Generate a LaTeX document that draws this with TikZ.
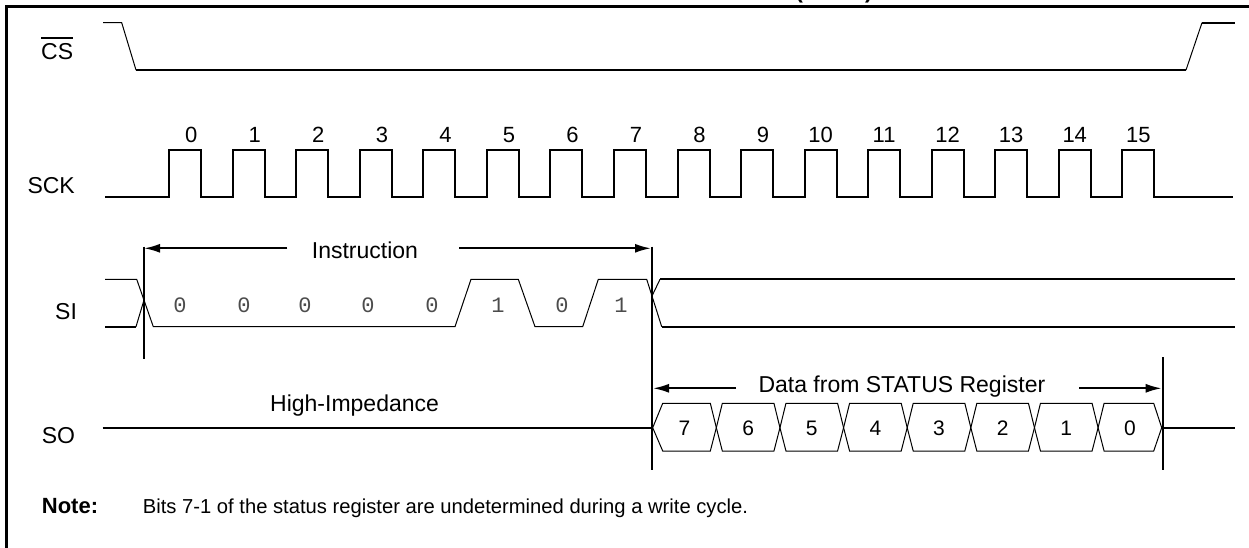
\documentclass[tikz,border=0pt]{standalone}
\usepackage{fontspec}
\setmainfont{Liberation Sans}
\newfontfamily\monofont{Liberation Mono}
\usetikzlibrary{arrows.meta}
\begin{document}
\begin{tikzpicture}[x=1pt,y=-1pt,
  sig/.style={line width=2pt, line join=miter},
  thinsig/.style={line width=1pt, line join=miter},
  marker/.style={line width=2pt},
  dim/.style={line width=2pt,-{Latex[length=16pt,width=9pt]}},
  lbl/.style={inner sep=0pt, anchor=base west, font=\fontsize{23}{27}\selectfont},
  num/.style={inner sep=0pt, anchor=base, font=\fontsize{22}{26}\selectfont},
  bit/.style={inner sep=0pt, font=\fontsize{22}{26}\selectfont\monofont, text=black!70},
  hexd/.style={inner sep=0pt, font=\fontsize{21}{25}\selectfont},
  hexl/.style={line width=1pt, line join=miter},
]
\useasboundingbox (0,0) rectangle (1249,548);

% frame
\draw[line width=2.5pt, line join=miter] (6.7,548) -- (6.7,6.7) -- (1249,6.7);
\node[inner sep=0pt, anchor=base, font=\bfseries\fontsize{22}{26}\selectfont] (title) at (834,-1.5) {(RDSR)};

% CS
\node[lbl] (cs) at (41,60) {CS};
\draw[line width=1.5pt] ([yshift=5.5pt]cs.north west) -- ([yshift=5.5pt]cs.north east);
\draw[thinsig] (103,22.7) -- (121.7,22.7) -- (136,70);
\draw[sig] (136,70) -- (1186,70);
\draw[thinsig] (1186,70) -- (1202,22.7);
\draw[sig] (1202,22.7) -- (1235,22.7);

% SCK
\node[lbl] (sck) at (27.3,193.3) {SCK};
\draw[sig] (105,196.7) foreach \k in {0,...,15} {
   -- ({169.3+63.53*\k},196.7) -- ({169.3+63.53*\k},150)
   -- ({201.3+63.53*\k},150) -- ({201.3+63.53*\k},196.7) } -- (1233,196.7);
\foreach \k in {0,...,15} {
  \ifnum\k<10 \def\off{22}\else\def\off{16}\fi
  \node[num] (n\k) at ({169.3+63.53*\k+\off},143) {\k};
}

% SI
\node[lbl] (si) at (55,319.3) {SI};
\draw[thinsig] (105,279.3) -- (136.7,279.3) -- (153.3,326.7) -- (455,326.7)
  -- (471,279.3) -- (518.3,279.3) -- (535,326.7) -- (582.7,326.7)
  -- (598.3,279.3) -- (646.7,279.3) -- (661.7,326.7);
\draw[sig] (105,326.7) -- (136,326.7);
\draw[thinsig] (136,326.7) -- (144,300);
\draw[thinsig] (652,296) -- (660,279.3);
\draw[sig] (660,279.3) -- (1235,279.3);
\draw[sig] (661.7,326.7) -- (1235,326.7);
\foreach \x/\b [count=\i] in {180/0,244/0,305/0,368/0,432/0,498/1,562/0,621/1}
  \node[bit] (b\i) at (\x,305) {\b};

% markers
\coordinate (m1t) at (144,246.7); \coordinate (m1b) at (144,359.3);
\coordinate (m2t) at (652,246.7); \coordinate (m2b) at (652,470);
\coordinate (m3t) at (1162.7,357); \coordinate (m3b) at (1162.7,470);
\draw[marker] (m1t) -- (m1b);
\draw[marker] (m2t) -- (m2b);
\draw[marker] (m3t) -- (m3b);

% Instruction
\node[lbl] (instr) at (311.7,258.3) {Instruction};
\draw[dim] (287.3,248.3) -- (144,248.3);
\draw[dim] (459.3,248.3) -- (651,248.3);

% SO
\node[lbl] (so) at (41.7,443.3) {SO};
\node[lbl] (hz) at (270,411.7) {High-Impedance};
\draw[sig] (102.7,427.7) -- (652.7,427.7);
\draw[sig] (1162.7,427.7) -- (1235,427.7);
\node[lbl] (data) at (758.3,392.3) {Data from STATUS Register};
\draw[dim] (736,388.3) -- (653,388.3);
\draw[dim] (1079.3,388.3) -- (1161.7,388.3);
\foreach \i/\d in {0/7,1/6,2/5,3/4,4/3,5/2,6/1,7/0} {
  \pgfmathsetmacro\a{652.7+63.625*\i}
  \pgfmathsetmacro\b{652.7+63.625*(\i+1)}
  \ifnum\i=0 \def\dl{10}\else\def\dl{6}\fi
  \ifnum\i=7 \def\dr{8}\else\def\dr{6}\fi
  \draw[hexl] (\a,427.7) -- (\a+\dl,403.3) -- (\b-\dr,403.3) -- (\b,427.7)
     -- (\b-\dr,451) -- (\a+\dl,451) -- cycle;
  \node[hexd] (h\i) at ({(\a+\b)/2},428) {\d};
}

% note
\node[lbl, font=\bfseries\fontsize{22}{26}\selectfont] (note) at (41.7,513.3) {Note:};
\node[lbl, font=\fontsize{20.2}{24}\selectfont] (notetext) at (142.7,513.3) {Bits 7-1 of the status register are undetermined during a write cycle.};
\end{tikzpicture}
\end{document}
